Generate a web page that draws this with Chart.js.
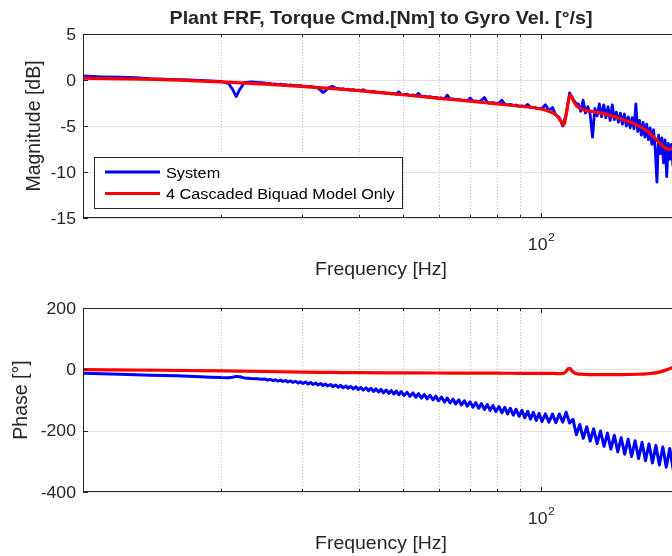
<!DOCTYPE html>
<html>
<head>
<meta charset="utf-8">
<script src="https://cdn.jsdelivr.net/npm/chart.js@4.4.1/dist/chart.umd.min.js"></script>
<style>
  html, body { margin: 0; padding: 0; background: #ffffff; }
  body { width: 672px; height: 556px; overflow: hidden; position: relative; }
  canvas { position: absolute; left: 0; }
  #mag { top: 0; }
  #phase { top: 290px; }
</style>
</head>
<body>
<canvas id="mag" width="680" height="290"></canvas>
<canvas id="phase" width="680" height="266"></canvas>
<script>
// ---- measured system response ----
const sysFreq = [
  10.0, 11.0, 12.0, 13.0, 14.0, 15.0, 16.0, 17.0, 18.0, 19.0, 20.0, 20.8, 21.2, 21.6, 22.0, 22.5, 23.3, 24.0, 24.5,
  25.0, 25.3, 25.6, 26.0, 26.3, 26.6, 27.0, 27.3, 27.7, 28.0, 28.4, 28.7, 29.1, 29.5, 29.8,
  30.2, 30.6, 31.0, 31.4, 31.8, 32.2, 32.6, 33.0, 33.4, 33.8, 34.2, 34.7,
  35.1, 35.6, 36.1, 36.5, 37.0, 37.5, 37.9, 38.4, 38.9, 39.4, 39.9,
  40.4, 40.9, 41.5, 42.0, 42.5, 43.1, 43.6, 44.2, 44.7,
  45.3, 45.9, 46.5, 47.1, 47.7, 48.3, 48.9, 49.5,
  50.2, 51.0, 51.7, 52.5, 53.3, 54.0, 54.8, 55.6, 56.4, 57.2, 58.1, 58.9, 59.7,
  60.6, 61.5, 62.4, 63.3, 64.2, 65.1, 66.1, 67.0, 68.0, 69.0, 70.0,
  71.0, 72.0, 73.1, 74.1, 75.2, 76.3, 77.4, 78.5, 79.7,
  80.9, 82.1, 83.3, 84.5, 85.7, 87.0, 88.2, 89.5,
  90.8, 92.1, 93.5, 94.8, 96.2, 97.6, 99.0,
  100.4, 102.2, 104.0, 105.9, 107.7, 109.6, 111.5, 113.4, 115.4, 117.4, 119.4,
  121.5, 123.6, 125.8, 128.0, 130.2, 132.5, 134.8, 137.2, 139.6, 142.0, 144.5, 147.0, 149.6,
  152.2, 154.9, 157.6, 160.4, 163.2, 166.1, 169.0, 172.0, 175.0, 178.1, 181.2, 184.4, 187.6, 190.9, 194.2, 197.6, 201.0
];
// magnitude below 120 Hz, one value per sysFreq entry up to 119.4 Hz
const sysMagDbLow = [
  0.45, 0.35, 0.3, 0.25, 0.15, 0.1, 0.05, 0.0, -0.05, -0.1, -0.15, -0.4, -1.0, -1.8, -1.0, -0.3, -0.2, -0.25, -0.3,
  -0.35, -0.4, -0.38, -0.45, -0.42, -0.5, -0.45, -0.52, -0.5, -0.58, -0.52, -0.6, -0.58, -0.65, -0.6,
  -0.7, -0.68, -0.75, -0.7, -0.78, -0.8, -0.9, -1.1, -1.35, -1.2, -0.9, -0.75,
  -0.7, -0.9, -0.92, -1.0, -0.95, -1.05, -1.0, -1.1, -1.05, -1.15, -1.1,
  -1.2, -1.05, -1.25, -1.22, -1.3, -1.25, -1.35, -1.32, -1.4,
  -1.35, -1.45, -1.42, -1.5, -1.45, -1.55, -1.27, -1.6,
  -1.6, -1.55, -1.7, -1.62, -1.72, -1.45, -1.8, -1.75, -1.85, -1.8, -1.92, -1.88, -2.0,
  -1.95, -2.05, -1.65, -2.08, -2.05, -2.15, -2.1, -2.2, -2.18, -2.28, -1.95,
  -2.3, -2.28, -2.38, -2.2, -1.9, -2.45, -2.5, -2.45, -2.55,
  -2.5, -2.2, -2.62, -2.7, -2.65, -2.75, -2.72, -2.85,
  -2.8, -2.9, -2.65, -2.95, -3.0, -3.05, -3.1,
  -3.1, -2.7, -3.3, -3.0, -3.8, -4.1, -5.0, -3.7, -1.4, -2.1, -2.6
];
// magnitude above 120 Hz, sampled more densely
const sysMagFreqHigh = [
  120.5, 122, 123.5, 125, 126.5, 128, 129.5, 131, 132.5, 134, 135.5, 137, 138.5, 140,
  141.5, 143, 144.5, 146, 147.5, 149, 150.5, 152, 153.5, 155, 156.5, 158, 159.5, 161,
  162.5, 164, 165.5, 167, 168.5, 170, 171.5, 173, 174.5, 176, 177.5, 179, 180.5, 182,
  183.5, 185, 186.5, 188, 189.5, 191, 192.5, 194, 195.5, 197, 198.5, 200, 201.5
];
const sysMagDbHigh = [
  -2.6, -3.4, -2.2, -3.6, -2.9, -3.8, -6.2, -3.1, -3.9, -2.6, -4.0, -2.7, -4.1, -2.9,
  -4.4, -2.7, -4.3, -3.5, -4.6, -3.6, -4.8, -3.7, -5.0, -4.0, -5.2, -4.1, -5.3, -2.6,
  -5.6, -4.4, -6.0, -4.6, -6.2, -4.8, -6.5, -5.2, -7.0, -5.4, -7.6, -11.1, -6.0, -8.0,
  -6.3, -9.0, -6.5, -10.5, -6.9, -8.6, -7.0, -9.3, -6.8, -8.2, -6.9, -8.0, -7.2
];
const sysPhaseDeg = [
  -13, -14.5, -16, -17.5, -19, -20, -21, -22.5, -24, -25.5, -27, -27.5, -26, -23, -24, -28, -30, -31, -32,
  -31.5, -35.2, -32.6, -36.7, -33.9, -38.0, -35.1, -39.5, -36.4, -41.0, -37.7, -42.6, -39.0, -44.3, -40.2,
  -45.9, -41.6, -47.6, -43.1, -49.3, -44.6, -51.0, -46.1, -52.7, -47.6, -54.4, -49.3,
  -56.4, -50.8, -58.4, -52.3, -60.1, -53.9, -61.9, -55.4, -63.8, -57.0, -65.8,
  -58.6, -67.8, -60.4, -70.0, -62.0, -72.2, -63.8, -74.4, -65.6,
  -76.5, -67.3, -78.7, -69.0, -80.8, -70.6, -83.0, -72.3,
  -85.3, -74.6, -88.1, -77.0, -90.9, -79.4, -93.7, -82.1, -96.5, -84.5, -99.6, -87.2, -102.5,
  -90.5, -106.5, -93.7, -109.8, -96.7, -112.7, -99.4, -116.3, -102.6, -120.1, -106.0,
  -123.6, -108.8, -127.0, -111.8, -130.6, -115.0, -133.7, -117.8, -137.6,
  -121.1, -141.3, -124.0, -145.1, -127.0, -149.1, -130.0, -153.1,
  -133.6, -158.0, -136.9, -162.4, -140.0, -166.8, -143.4,
  -170.5, -145.3, -172.4, -145.9, -173.8, -146.0, -172.0, -140.0, -175.0, -163.0, -213.0,
  -180, -225, -187, -234, -194, -242, -201, -251, -208, -260, -215, -269, -223,
  -277, -228, -284, -233, -291, -238, -298, -243, -305, -248, -312, -253, -319, -258, -326, -263, -334
];

// ---- 4 cascaded biquad model ----
const modelFreq = [
  10, 15, 20, 25, 30, 35, 40, 50, 60, 70, 80, 90, 100,
  104, 107, 109, 110.5, 111.8, 112.6, 113.6, 114.6, 115.6, 116.6,
  118, 120, 123, 130, 137, 149, 162, 170, 176, 181, 185, 190, 194, 200
];
const modelMagDb = [
  0.2, 0.05, -0.2, -0.45, -0.7, -0.93, -1.15, -1.6, -2.0, -2.3, -2.6, -2.85, -3.15,
  -3.4, -3.7, -4.05, -4.5, -4.9, -4.6, -3.6, -2.5, -1.65, -1.8,
  -2.4, -2.9, -3.2, -3.45, -3.65, -4.2, -4.9, -5.5, -6.2, -6.8, -7.25, -7.55, -7.45, -7.1
];
const modelPhaseDeg = [
  -1, -3, -5, -7, -9, -10, -11, -11.5, -12, -12.5, -12.5, -13, -13,
  -13.5, -13.5, -14, -14, -13, -11, -5, 2, 3, -4,
  -11, -15, -16, -17, -17, -17, -16, -14.5, -12.5, -9, -5, 1, 7, 18
];

// ---- axes ----
const freqRange = [10, 200];
const xMajorTicks = [100];
const xMinorTicks = [20, 30, 40, 50, 60, 70, 80, 90];
const magTicks = [5, 0, -5, -10, -15];
const phaseTicks = [200, 0, -200, -400];

const seriesNames = ['System', '4 Cascaded Biquad Model Only'];
const seriesColors = ['#0000ff', '#ff0000'];

const FONT = '"Liberation Sans", Arial, Helvetica, sans-serif';
const INK = '#262626';
const XSTRETCH = 1.07;   // text is drawn slightly wide

function pairs(xs, ys) { return xs.map((f, i) => ({ x: f, y: ys[i] })); }

function drawText(ctx, str, x, y, o) {
  ctx.save();
  ctx.font = (o.weight || 'normal') + ' ' + o.size + 'px ' + FONT;
  ctx.fillStyle = o.color || INK;
  ctx.textBaseline = o.baseline || 'alphabetic';
  ctx.textAlign = 'left';
  const raw = ctx.measureText(str).width;
  ctx.translate(x, y);
  if (o.rotate) {
    ctx.rotate(o.rotate);
    ctx.scale(1, XSTRETCH);
    ctx.fillText(str, -raw / 2, 0);
    ctx.restore();
    return raw;
  }
  const w = raw * XSTRETCH;
  let dx = 0;
  if (o.align === 'center') dx = -w / 2;
  else if (o.align === 'right') dx = -w;
  ctx.scale(XSTRETCH, 1);
  ctx.fillText(str, dx / XSTRETCH, 0);
  ctx.restore();
  return w;
}

function textWidth(ctx, str, size, weight) {
  ctx.save();
  ctx.font = (weight || 'normal') + ' ' + size + 'px ' + FONT;
  const w = ctx.measureText(str).width * XSTRETCH;
  ctx.restore();
  return w;
}

const bodePlugin = {
  id: 'bode',
  beforeDatasetsDraw(chart, args, o) {
    const { ctx, chartArea: a, scales: { x, y } } = chart;
    ctx.save();
    ctx.lineWidth = 1;
    ctx.strokeStyle = '#e2e2e2';
    o.yTicks.forEach(v => {
      const py = Math.round(y.getPixelForValue(v)) + 0.5;
      ctx.beginPath(); ctx.moveTo(a.left, py); ctx.lineTo(a.right, py); ctx.stroke();
    });
    xMajorTicks.forEach(v => {
      const px = Math.round(x.getPixelForValue(v)) + 0.5;
      ctx.beginPath(); ctx.moveTo(px, a.top); ctx.lineTo(px, a.bottom); ctx.stroke();
    });
    ctx.strokeStyle = '#c6c6c6';
    ctx.setLineDash([1, 2]);
    xMinorTicks.forEach(v => {
      const px = Math.round(x.getPixelForValue(v)) + 0.5;
      ctx.beginPath(); ctx.moveTo(px, a.top); ctx.lineTo(px, a.bottom); ctx.stroke();
    });
    ctx.restore();
  },
  afterDraw(chart, args, o) {
    const { ctx, chartArea: a, scales: { x, y } } = chart;
    ctx.save();
    // axes box
    ctx.strokeStyle = INK;
    ctx.lineWidth = 1;
    ctx.strokeRect(a.left + 0.5, a.top + 0.5, a.right - a.left - 1, a.bottom - a.top - 1);
    // inward tick marks
    ctx.beginPath();
    o.yTicks.forEach(v => {
      const py = Math.round(y.getPixelForValue(v)) + 0.5;
      ctx.moveTo(a.left, py); ctx.lineTo(a.left + 5, py);
      ctx.moveTo(a.right, py); ctx.lineTo(a.right - 5, py);
    });
    xMajorTicks.forEach(v => {
      const px = Math.round(x.getPixelForValue(v)) + 0.5;
      ctx.moveTo(px, a.bottom); ctx.lineTo(px, a.bottom - 5);
      ctx.moveTo(px, a.top); ctx.lineTo(px, a.top + 5);
    });
    xMinorTicks.forEach(v => {
      const px = Math.round(x.getPixelForValue(v)) + 0.5;
      ctx.moveTo(px, a.bottom); ctx.lineTo(px, a.bottom - 3);
      ctx.moveTo(px, a.top); ctx.lineTo(px, a.top + 3);
    });
    ctx.stroke();
    ctx.restore();

    // y tick labels
    o.yTicks.forEach(v => {
      const py = y.getPixelForValue(v);
      drawText(ctx, String(v), a.left - 7, py + 1, { size: 16.5, align: 'right', baseline: 'middle' });
    });
    // x tick labels (powers of ten)
    xMajorTicks.forEach(v => {
      const px = x.getPixelForValue(v);
      const exp = String(Math.round(Math.log10(v)));
      const wb = textWidth(ctx, '10', 16.5);
      const we = textWidth(ctx, exp, 11.5);
      const x0 = px - (wb + we) / 2;
      drawText(ctx, '10', x0, a.bottom + 32, { size: 16.5 });
      drawText(ctx, exp, x0 + wb + 0.5, a.bottom + 23, { size: 11.5 });
    });
    // axis titles
    drawText(ctx, 'Frequency [Hz]', (a.left + a.right) / 2, a.bottom + 57, { size: 18.2, align: 'center' });
    drawText(ctx, o.yTitle, o.yTitleX, (a.top + a.bottom) / 2, { size: 19.5, rotate: -Math.PI / 2 });
    if (o.title) {
      drawText(ctx, o.title, (a.left + a.right) / 2, 24, { size: 18.4, weight: 'bold', align: 'center' });
    }
    if (o.legend) {
      const L = o.legend;
      ctx.save();
      ctx.fillStyle = '#ffffff';
      ctx.fillRect(L.x, L.y, L.w, L.h);
      ctx.strokeStyle = INK;
      ctx.lineWidth = 1;
      ctx.strokeRect(L.x + 0.5, L.y + 0.5, L.w - 1, L.h - 1);
      chart.data.datasets.forEach((ds, i) => {
        const ly = L.y + 15 + i * 21.5;
        ctx.strokeStyle = ds.borderColor;
        ctx.lineWidth = ds.borderWidth;
        ctx.beginPath(); ctx.moveTo(L.x + 11, ly); ctx.lineTo(L.x + 66, ly); ctx.stroke();
        drawText(ctx, ds.label, L.x + 72, ly + 5.5, { size: 15.2, color: '#000000' });
      });
      ctx.restore();
    }
  }
};

function bodeChart(id, datasets, yTicks, extra, pad) {
  return new Chart(document.getElementById(id), {
    type: 'line',
    data: { datasets },
    options: {
      responsive: false,
      devicePixelRatio: 1,
      animation: false,
      layout: { padding: pad },
      elements: { point: { radius: 0, hoverRadius: 0 } },
      scales: {
        x: { type: 'logarithmic', min: freqRange[0], max: freqRange[1], display: false },
        y: { type: 'linear', min: yTicks[yTicks.length - 1], max: yTicks[0], display: false }
      },
      plugins: {
        legend: { display: false },
        tooltip: { enabled: false },
        bode: Object.assign({ yTicks }, extra)
      }
    },
    plugins: [bodePlugin]
  });
}

function series(i, xs, ys, width, smooth) {
  return {
    label: seriesNames[i],
    data: pairs(xs, ys),
    borderColor: seriesColors[i],
    backgroundColor: seriesColors[i],
    borderWidth: width,
    borderJoinStyle: 'round',
    tension: 0,
    cubicInterpolationMode: smooth ? 'monotone' : 'default',
    order: i === 0 ? 2 : 1,
    clip: 0
  };
}

// magnitude samples: low band on the shared grid, high band on the dense grid
const magFreq = sysFreq.filter(f => f < 120).concat(sysMagFreqHigh);
const magDb = sysMagDbLow.concat(sysMagDbHigh);

bodeChart('mag', [
  series(0, magFreq, magDb, 2.8, false),
  series(1, modelFreq, modelMagDb, 3.2, true)
], magTicks, {
  yTitle: 'Magnitude [dB]',
  yTitleX: 40,
  title: 'Plant FRF, Torque Cmd.[Nm] to Gyro Vel. [\u00B0/s]',
  legend: { x: 94, y: 157, w: 309, h: 52 }
}, { left: 83, top: 34, right: 1, bottom: 72 });

bodeChart('phase', [
  series(0, sysFreq, sysPhaseDeg, 3, false),
  series(1, modelFreq, modelPhaseDeg, 3.2, true)
], phaseTicks, {
  yTitle: 'Phase [\u00B0]',
  yTitleX: 27
}, { left: 83, top: 18, right: 1, bottom: 64 });
</script>
</body>
</html>
